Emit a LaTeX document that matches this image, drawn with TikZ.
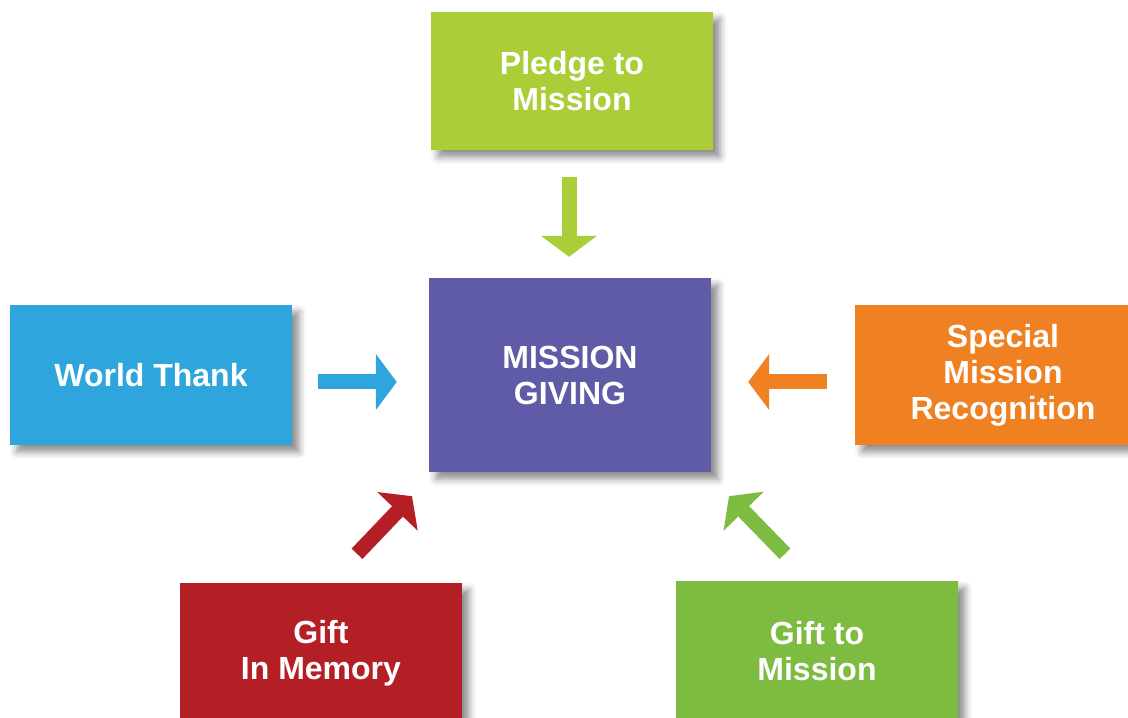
\documentclass[tikz,border=0pt]{standalone}
\usepackage{fontspec}
\setmainfont{Liberation Sans}
\usetikzlibrary{arrows.meta, shadows.blur}

\definecolor{pledgegreen}{HTML}{ABCD37}
\definecolor{missionpurple}{HTML}{5F5BA7}
\definecolor{worldblue}{HTML}{2EA6DD}
\definecolor{specialorange}{HTML}{EF8123}
\definecolor{memoryred}{HTML}{B41F25}
\definecolor{giftgreen}{HTML}{7DBB41}

\begin{document}
\begin{tikzpicture}[x=1pt, y=1pt]
\tikzset{box/.style = {rectangle, minimum width=282pt, minimum height=140pt, text=white, align=center,
	font=\fontsize{32}{36}\selectfont\bfseries, inner sep=0pt,
	blur shadow={shadow xshift=7pt, shadow yshift=-7pt, shadow blur radius=7pt, shadow opacity=45}},
	feed/.style = {line width=15pt, -{Triangle[width=55pt, length=21pt]}}}
\useasboundingbox (0,0) rectangle (1128,718);

	\node[box, fill=missionpurple, minimum height=194pt] (mission) at (570,343) {MISSION\\GIVING};
	\node[box, fill=pledgegreen, minimum height=138pt] (pledge) at (572,637) {Pledge to\\Mission};
	\node[box, fill=worldblue] (world) at (151,343) {World Thank};
	\node[box, fill=specialorange, minimum width=296pt] (special) at (1003,343) {Special\\Mission\\Recognition};
	\node[box, fill=memoryred] (memory) at (321,65) {Gift\\In Memory};
	\node[box, fill=giftgreen] (gift) at (817,67) {Gift to\\Mission};

	% arrows into the centre
	\draw[feed, pledgegreen, shorten <=27pt, shorten >=21pt] ([xshift=-3pt]pledge.south) -- ([xshift=-1pt]mission.north);
	\draw[feed, worldblue, shorten <=26pt, shorten >=32pt] ([yshift=-7pt]world.east) -- ([yshift=-7pt]mission.west);
	\draw[feed, specialorange, shorten <=28pt, shorten >=37pt] ([yshift=-7pt]special.west) -- ([yshift=-7pt]mission.east);
	\draw[feed, memoryred] ([shift={(36pt,29pt)}]memory.north) -- ([shift={(-158pt,-24pt)}]mission.south);
	\draw[feed, giftgreen] ([shift={(-32pt,27pt)}]gift.north) -- ([shift={(159pt,-24pt)}]mission.south);
\end{tikzpicture}
\end{document}
